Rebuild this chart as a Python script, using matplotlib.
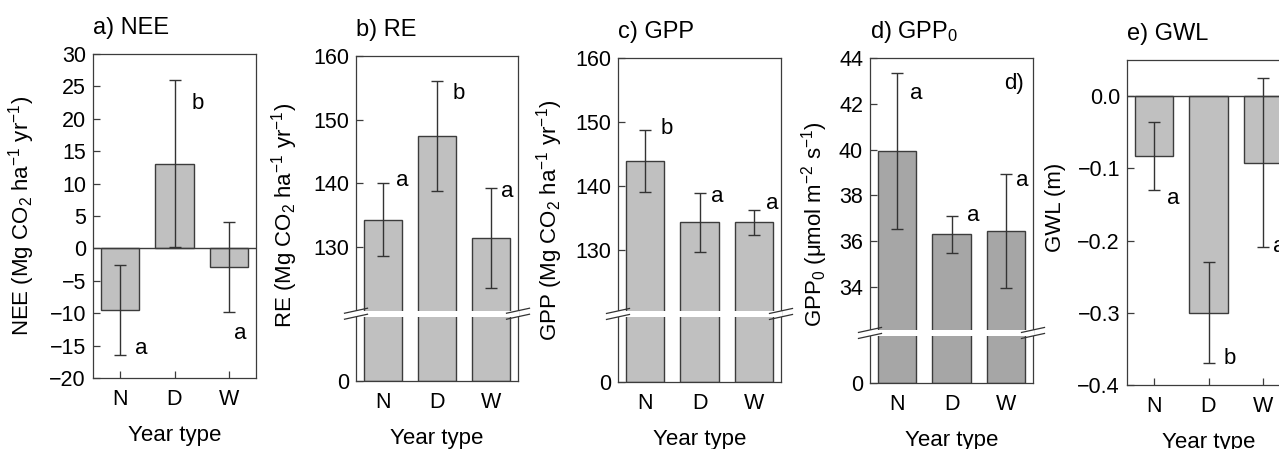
import numpy as np
import matplotlib
matplotlib.use("Agg")
import matplotlib.pyplot as plt
from matplotlib.lines import Line2D
from matplotlib.patches import Rectangle
from matplotlib.ticker import FuncFormatter

plt.rcParams["font.family"] = ["Liberation Sans", "DejaVu Sans"]
plt.rcParams["mathtext.fontset"] = "custom"
plt.rcParams["mathtext.rm"] = "Liberation Sans"
plt.rcParams["mathtext.it"] = "Liberation Sans:italic"
plt.rcParams["mathtext.default"] = "regular"

years = ["N", "D", "W"]

nee = [-9.5, 13.1, -2.85]
nee_err = [6.9, 12.9, 7.0]
nee_sig = ["a", "b", "a"]

re_vals = [134.3, 147.4, 131.4]
re_err = [5.7, 8.6, 7.9]
re_sig = ["a", "b", "a"]

gpp = [143.9, 134.3, 134.3]
gpp_err = [4.9, 4.6, 1.9]
gpp_sig = ["b", "a", "a"]

gpp0 = [39.95, 36.3, 36.45]
gpp0_err = [3.4, 0.8, 2.5]
gpp0_sig = ["a", "a", "a"]

gwl = [-0.083, -0.30, -0.092]
gwl_err = [0.047, 0.07, 0.117]
gwl_sig = ["a", "b", "a"]

W, H = 1279, 449
fig = plt.figure(figsize=(W / 100, H / 100), dpi=100)

EDGE = "#3c3c3c"
TICK_FS = 15.5
TITLE_FS = 17
LABEL_FS = 16
SIG_FS = 16


def broken_scale(brk, top, frac):
    # compress 0..brk into the lowest `frac` of the axis
    L = frac / (1 - frac) * (top - brk)
    lo = brk - L

    def fwd(v):
        v = np.asarray(v, float)
        return np.where(v >= brk, v, lo + v * (L / brk))

    def inv(u):
        u = np.asarray(u, float)
        return np.where(u >= brk, u, (u - lo) * brk / L)

    return fwd, inv


def minus_fmt(v, p):
    if abs(v) < 1e-9:
        return "0.0"
    return ("%.1f" % v).replace("-", "\u2212")


panels = [
    dict(vals=nee, err=nee_err, sig=nee_sig, title="a) NEE",
         ylabel=r"NEE (Mg CO$_2$ ha$^{-1}$ yr$^{-1}$)",
         ylim=(-20, 30), yticks=list(range(-20, 35, 5)), color="#c0c0c0",
         box=(93, 256, 54, 378), brk=None, zero=True, yl=(-0.345, 0.5),
         sig_xy=[(1.39, -15.4), (2.42, 22.4), (3.21, -13.2)]),
    dict(vals=re_vals, err=re_err, sig=re_sig, title="b) RE",
         ylabel=r"RE (Mg CO$_2$ ha$^{-1}$ yr$^{-1}$)",
         ylim=(0, 160), yticks=[0, 130, 140, 150, 160], color="#c0c0c0",
         box=(356, 518, 56, 381), brk=(119.5, 0.207), zero=False, yl=(-0.345, 0.51),
         sig_xy=[(1.36, 140.5), (2.41, 154.1), (3.31, 138.7)]),
    dict(vals=gpp, err=gpp_err, sig=gpp_sig, title="c) GPP",
         ylabel=r"GPP (Mg CO$_2$ ha$^{-1}$ yr$^{-1}$)",
         ylim=(0, 160), yticks=[0, 130, 140, 150, 160], color="#c0c0c0",
         box=(618, 781, 58, 382), brk=(120, 0.21), zero=False, yl=(-0.325, 0.5),
         sig_xy=[(1.39, 149.0), (2.33, 138.3), (3.33, 137.3)]),
    dict(vals=gpp0, err=gpp0_err, sig=gpp0_sig, title=r"d) GPP$_0$",
         ylabel=r"GPP$_0$ ($\mu$mol m$^{-2}$ s$^{-1}$)",
         ylim=(0, 44), yticks=[0, 34, 36, 38, 40, 42, 44], color="#a6a6a6",
         box=(870, 1033, 58, 383), brk=(32, 0.154), zero=False, yl=(-0.245, 0.488),
         sig_xy=[(1.35, 42.46), (2.4, 37.14), (3.31, 38.67)]),
    dict(vals=gwl, err=gwl_err, sig=gwl_sig, title="e) GWL",
         ylabel="GWL (m)",
         ylim=(-0.4, 0.05), yticks=[-0.4, -0.3, -0.2, -0.1, 0.0], color="#c0c0c0",
         box=(1127, 1290, 60, 385), brk=None, zero=True, yl=(-0.374, 0.548),
         sig_xy=[(1.35, -0.142), (2.4, -0.363), (3.3, -0.208)]),
]

x = np.arange(1, len(years) + 1)

for i, p in enumerate(panels):
    l, r, t, b = p["box"]
    axw, axh = r - l, b - t
    ax = fig.add_axes([l / W, 1 - b / H, axw / W, axh / H])

    if p["brk"] is not None:
        brk, frac = p["brk"]
        fwd, inv = broken_scale(brk, p["ylim"][1], frac)
        ax.set_yscale("function", functions=(fwd, inv))

    ax.bar(x, p["vals"], width=0.71, color=p["color"], edgecolor=EDGE,
           linewidth=1.0, zorder=2)
    ax.errorbar(x, p["vals"], yerr=p["err"], fmt="none", ecolor="#333333",
                elinewidth=1.0, capsize=4.5, capthick=1.0, zorder=3)
    if p["zero"]:
        ax.axhline(0, color=EDGE, linewidth=1.0, zorder=4)

    ax.set_xlim(0.5, 3.5)
    ax.set_ylim(*p["ylim"])
    ax.set_xticks(x)
    ax.set_xticklabels(years)
    ax.set_yticks(p["yticks"])
    ax.minorticks_off()
    if i == 4:
        ax.yaxis.set_major_formatter(FuncFormatter(minus_fmt))

    for s in ax.spines.values():
        s.set_color(EDGE)
        s.set_linewidth(0.9)
    ax.tick_params(axis="both", direction="in", length=5, width=0.9,
                   color=EDGE, labelsize=TICK_FS)
    ax.tick_params(axis="x", pad=8)
    ax.tick_params(axis="y", pad=5)

    for (sx, sy), s in zip(p["sig_xy"], p["sig"]):
        ax.text(sx, sy, s, ha="center", va="center", fontsize=SIG_FS, zorder=6)

    ax.text(0, 1 + 20 / axh, p["title"], transform=ax.transAxes,
            ha="left", va="baseline", fontsize=TITLE_FS)

    ax.set_ylabel(p["ylabel"], fontsize=LABEL_FS)
    ax.yaxis.set_label_coords(*p["yl"])
    ax.set_xlabel("Year type", fontsize=LABEL_FS)
    ax.xaxis.set_label_coords(0.5, -(425 - 378) / 324)
    ax.xaxis.label.set_va("top")

    if p["brk"] is not None:
        hh = 3.0 / axh
        ax.add_patch(Rectangle((-0.006, frac - hh), 1.012, 2 * hh,
                               transform=ax.transAxes, facecolor="white",
                               edgecolor="none", zorder=7, clip_on=False))
        dx, dy = 11.5 / axw, 2.5 / axh
        for xs in (0.0, 1.0):
            for ys in (frac - hh, frac + hh):
                ax.add_line(Line2D([xs - dx, xs + dx], [ys - dy, ys + dy],
                                   transform=ax.transAxes, color="#333333",
                                   linewidth=0.9, clip_on=False, zorder=8))

    if i == 3:
        ax.text(0.883, 0.923, "d)", transform=ax.transAxes, ha="center",
                va="center", fontsize=SIG_FS)

fig.savefig("out.png", dpi=100)
